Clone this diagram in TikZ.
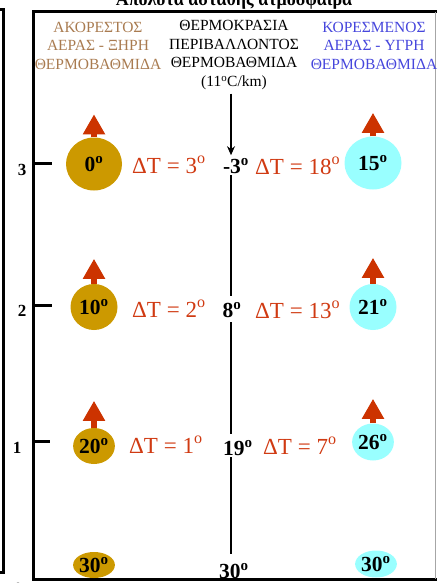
\documentclass[tikz,border=0pt]{standalone}
\usepackage{fontspec}
\setmainfont{Liberation Serif}
\usetikzlibrary{arrows.meta,shapes.geometric,calc}
\definecolor{gold}{HTML}{CC9900}
\definecolor{aqua}{HTML}{99FFFF}
\definecolor{arrowred}{HTML}{CC3300}
\definecolor{dtred}{HTML}{D03A12}
\definecolor{hbrown}{HTML}{A97B50}
\definecolor{hblue}{HTML}{4646DC}
\begin{document}
\begin{tikzpicture}[x=1pt,y=-1pt,
  hdr/.style={align=center, font=\fontsize{15.5}{18.5}\selectfont, inner sep=0},
  parcel/.style={ellipse, inner sep=0, font=\bfseries\fontsize{21.5}{24}\selectfont},
  dry/.style={parcel, fill=gold},
  moist/.style={parcel, fill=aqua},
  envt/.style={font=\bfseries\fontsize{21.5}{24}\selectfont, inner xsep=0, inner ysep=3pt, anchor=base},
  dT/.style={text=dtred, font=\fontsize{23}{26}\selectfont, inner sep=0, anchor=base west},
  rise/.style={draw=arrowred, line width=6pt, -{Triangle[width=21pt,length=20pt]}},
  tickmark/.style={line width=3pt},
  tnum/.style={font=\bfseries\fontsize{17}{20}\selectfont, inner sep=0},
  envline/.style={line width=1.3pt},
  frameline/.style={line width=3pt}
]
\useasboundingbox (0,0) rectangle (437,583);
\clip (0,0) rectangle (437,583);

% title (cut off at top)
\node[font=\bfseries\fontsize{18}{20}\selectfont, anchor=base, inner sep=0] (title) at (234,6) {Απόλυτα ασταθής ατμόσφαιρα};

% left outer frame edge
\draw[frameline] (0,10) -- (3.5,10) -- (3.5,572) -- (0,572);
% main frame
\draw[frameline] (437,12) -- (33.5,12) -- (33.5,579.5) -- (437,579.5);
\draw[black!35, line width=1pt] (435.5,12) -- (435.5,579);

% ticks and labels
\draw[tickmark] (33.5,163) -- (52,163);
\draw[tickmark] (33.5,305) -- (52,305);
\draw[tickmark] (33.5,441) -- (50,441);
\node[tnum] (n3) at (22,170) {3};
\node[tnum] (n2) at (22,311) {2};
\node[tnum] (n1) at (17,448) {1};
\node[tnum] (n0) at (18,589) {0};

% headers
\node[hdr, text=hbrown] (hdrL) at (98,45.5) {ΑΚΟΡΕΣΤΟΣ\\ΑΕΡΑΣ - ΞΗΡΗ\\ΘΕΡΜΟΒΑΘΜΙΔΑ};
\node[hdr] (hdrC) at (234,55) {ΘΕΡΜΟΚΡΑΣΙΑ\\ΠΕΡΙΒΑΛΛΟΝΤΟΣ\\ΘΕΡΜΟΒΑΘΜΙΔΑ\\(11\textsuperscript{o}C/km)};
\node[hdr, text=hblue] (hdrR) at (374,45.5) {ΚΟΡΕΣΜΕΝΟΣ\\ΑΕΡΑΣ - ΥΓΡΗ\\ΘΕΡΜΟΒΑΘΜΙΔΑ};

% dry parcels
\node[dry, minimum width=56pt, minimum height=53pt] (d3) at (94,164) {0\textsuperscript{o}};
\node[dry, minimum width=47pt, minimum height=46pt] (d2) at (94,307) {10\textsuperscript{o}};
\node[dry, minimum width=37pt, minimum height=36pt] (d1) at (94,446) {20\textsuperscript{o}};
\node[dry, minimum width=30pt, minimum height=26pt] (d0) at (94,565) {30\textsuperscript{o}};

% moist parcels
\node[moist, minimum width=57pt, minimum height=53pt] (m3) at (373,163) {15\textsuperscript{o}};
\node[moist, minimum width=47pt, minimum height=46pt] (m2) at (373,307) {21\textsuperscript{o}};
\node[moist, minimum width=37pt, minimum height=37pt] (m1) at (373,442) {26\textsuperscript{o}};
\node[moist, minimum width=37pt, minimum height=27pt] (m0) at (376,564) {30\textsuperscript{o}};

% rising arrows
\draw[rise] (d3.north) -- ++(0,-23);
\draw[rise] (d2.north) -- ++(0,-25);
\draw[rise] (d1.north) -- ++(0,-27);
\draw[rise] (m3.north) -- ++(0,-23.5);
\draw[rise] (m2.north) -- ++(0,-26);
\draw[rise] (m1.north) -- ++(0,-24.5);

% environment temperatures
\node[envt] (t3) at (236,173) {-3\textsuperscript{o}};
\node[envt] (t2) at (232,317) {8\textsuperscript{o}};
\node[envt] (t1) at (238,455) {19\textsuperscript{o}};
\node[envt] (t0) at (234,578) {30\textsuperscript{o}};

\coordinate (lx) at (231,0);
\draw[envline, -{Stealth[width=8pt,length=9pt]}, shorten <=4pt] (hdrC.south -| lx) -- (t3.north -| lx);
\draw[envline, shorten <=-1pt, shorten >=3pt] (t3.south -| lx) -- (t2.north -| lx);
\draw[envline, shorten <=2pt, shorten >=3pt] (t2.south -| lx) -- (t1.north -| lx);
\draw[envline, shorten <=-1pt, shorten >=6pt] (t1.south -| lx) -- (t0.north -| lx);

% temperature differences
\node[dT] (dt3L) at (132,173) {ΔT = 3\textsuperscript{o}};
\node[dT] (dt2L) at (132,317) {ΔT = 2\textsuperscript{o}};
\node[dT] (dt1L) at (129,453) {ΔT = 1\textsuperscript{o}};
\node[dT] (dt3R) at (255,174) {ΔT = 18\textsuperscript{o}};
\node[dT] (dt2R) at (255,318) {ΔT = 13\textsuperscript{o}};
\node[dT] (dt1R) at (263,454) {ΔT = 7\textsuperscript{o}};
\end{tikzpicture}
\end{document}
